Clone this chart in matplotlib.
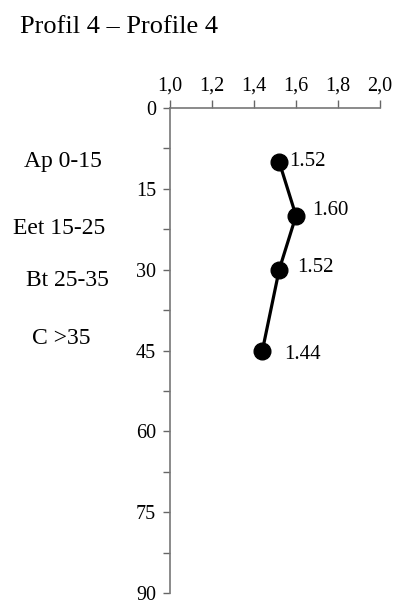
import matplotlib
matplotlib.use("Agg")
import matplotlib.pyplot as plt
import numpy as np

plt.rcParams['font.family'] = ['Liberation Serif', 'DejaVu Serif']

depth = [10, 20, 30, 45]
density = [1.52, 1.60, 1.52, 1.44]
value_labels = ["1.52", "1.60", "1.52", "1.44"]
label_offsets = [(7, 0), (11.5, 3.6), (13, 1.4), (16, -3)]
horizons = ["Ap 0-15", "Eet 15-25", "Bt 25-35", "C >35"]
horizon_y = [161, 229, 280, 338]
horizon_x = [24, 13, 26, 32]
xticks = [1.0, 1.2, 1.4, 1.6, 1.8, 2.0]
xticklabels = ["1,0", "1,2", "1,4", "1,6", "1,8", "2,0"]
yticks = [0, 15, 30, 45, 60, 75, 90]

W, H = 398, 603
fig = plt.figure(figsize=(W/100, H/100), dpi=100)
ax = fig.add_axes([170/W, 1-593/H, 210/W, (593-108)/H])
ax.plot(density, depth, color='black', lw=2.3, marker='o', ms=12, zorder=3, clip_on=False)
for x, y, t, (dx, dy) in zip(density, depth, value_labels, label_offsets):
    ax.annotate(t, (x, y), xytext=(dx, dy), textcoords='offset points',
                fontsize=15, va='center', ha='left')
ax.set_xlim(1.0, 2.0)
ax.set_ylim(90, 0)
ax.xaxis.tick_top()
ax.set_xticks(xticks)
ax.set_xticklabels(xticklabels, fontsize=14.5)
ax.set_yticks(yticks)
ax.set_yticks(np.arange(7.5, 90, 15), minor=True)
ax.tick_params(axis='y', labelsize=14.5, direction='out', length=5, width=1, color='#666666', pad=5)
ax.tick_params(axis='y', which='minor', direction='out', length=5, width=1, color='#666666')
ax.tick_params(axis='x', direction='out', length=6, width=1, color='#666666', pad=3)
for s in ['right', 'bottom']:
    ax.spines[s].set_visible(False)
for s in ['left', 'top']:
    ax.spines[s].set_color('#777777')
    ax.spines[s].set_linewidth(1.2)

for t, x, y in zip(horizons, horizon_x, horizon_y):
    fig.text(x/W, 1-y/H, t, fontsize=17, va='center', ha='left')
fig.text(20/W, 1-33/H, "Profil 4 – Profile 4", fontsize=19, va='baseline', ha='left')

fig.savefig("out.png", dpi=100)
